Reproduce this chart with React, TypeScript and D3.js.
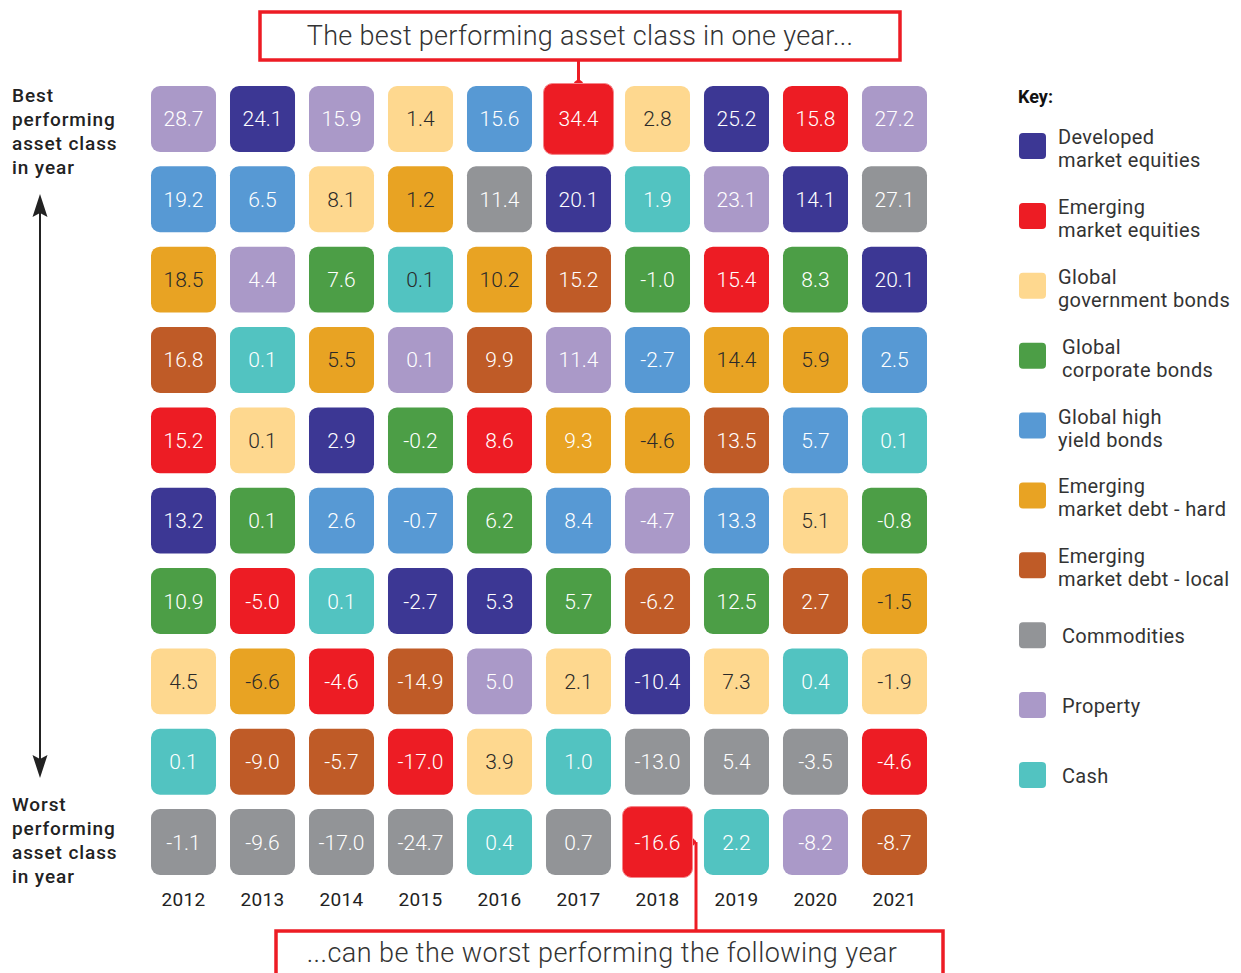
import React from 'react';
import * as d3 from 'd3';

// asset classes, in legend order
const assetKeys = ['dme', 'eme', 'ggb', 'gcb', 'ghy', 'emdh', 'emdl', 'com', 'prop', 'cash'];
const assetLabels = [
  ['Developed', 'market equities'],
  ['Emerging', 'market equities'],
  ['Global', 'government bonds'],
  ['Global', 'corporate bonds'],
  ['Global high', 'yield bonds'],
  ['Emerging', 'market debt - hard'],
  ['Emerging', 'market debt - local'],
  ['Commodities'],
  ['Property'],
  ['Cash'],
];
const assetColors = ['#3c3794', '#ed1c24', '#fed88f', '#4c9e46', '#5799d4', '#e8a323', '#bf5b27', '#929497', '#aa99c8', '#52c3c1'];

const years = ['2012', '2013', '2014', '2015', '2016', '2017', '2018', '2019', '2020', '2021'];

// ranking per year, best to worst
const ranking = [
  ['prop', 'ghy', 'emdh', 'emdl', 'eme', 'dme', 'gcb', 'ggb', 'cash', 'com'],
  ['dme', 'ghy', 'prop', 'cash', 'ggb', 'gcb', 'eme', 'emdh', 'emdl', 'com'],
  ['prop', 'ggb', 'gcb', 'emdh', 'dme', 'ghy', 'cash', 'eme', 'emdl', 'com'],
  ['ggb', 'emdh', 'cash', 'prop', 'gcb', 'ghy', 'dme', 'emdl', 'eme', 'com'],
  ['ghy', 'com', 'emdh', 'emdl', 'eme', 'gcb', 'dme', 'prop', 'ggb', 'cash'],
  ['eme', 'dme', 'emdl', 'prop', 'emdh', 'ghy', 'gcb', 'ggb', 'cash', 'com'],
  ['ggb', 'cash', 'gcb', 'ghy', 'emdh', 'prop', 'emdl', 'dme', 'com', 'eme'],
  ['dme', 'prop', 'eme', 'emdh', 'emdl', 'ghy', 'gcb', 'ggb', 'com', 'cash'],
  ['eme', 'dme', 'gcb', 'emdh', 'ghy', 'ggb', 'emdl', 'cash', 'com', 'prop'],
  ['prop', 'com', 'dme', 'ghy', 'cash', 'gcb', 'emdh', 'ggb', 'eme', 'emdl'],
];

// annual returns (%), same order as ranking
const returns = [
  [28.7, 19.2, 18.5, 16.8, 15.2, 13.2, 10.9, 4.5, 0.1, -1.1],
  [24.1, 6.5, 4.4, 0.1, 0.1, 0.1, -5.0, -6.6, -9.0, -9.6],
  [15.9, 8.1, 7.6, 5.5, 2.9, 2.6, 0.1, -4.6, -5.7, -17.0],
  [1.4, 1.2, 0.1, 0.1, -0.2, -0.7, -2.7, -14.9, -17.0, -24.7],
  [15.6, 11.4, 10.2, 9.9, 8.6, 6.2, 5.3, 5.0, 3.9, 0.4],
  [34.4, 20.1, 15.2, 11.4, 9.3, 8.4, 5.7, 2.1, 1.0, 0.7],
  [2.8, 1.9, -1.0, -2.7, -4.6, -4.7, -6.2, -10.4, -13.0, -16.6],
  [25.2, 23.1, 15.4, 14.4, 13.5, 13.3, 12.5, 7.3, 5.4, 2.2],
  [15.8, 14.1, 8.3, 5.9, 5.7, 5.1, 2.7, 0.4, -3.5, -8.2],
  [27.2, 27.1, 20.1, 2.5, 0.1, -0.8, -1.5, -1.9, -4.6, -8.7],
];

const darkTextKeys = ['ggb', 'emdh'];
const darkTextExtra = ['2015-cash'];
const lightTextExtra = ['2017-emdh'];

const bestText = 'The best performing asset class in one year...';
const worstText = '...can be the worst performing the following year';
const bestLabel = ['Best', 'performing', 'asset class', 'in year'];
const worstLabel = ['Worst', 'performing', 'asset class', 'in year'];

const FONT = 'Roboto, "Open Sans", sans-serif';
const RED = '#ed1c24';

export default function App() {
  const width = 1241;
  const height = 973;

  const x = d3.scaleBand<string>().domain(years).range([151, 927]).paddingInner(0.177).paddingOuter(0);
  const y = d3.scaleBand<number>().domain(d3.range(10)).range([86, 875]).paddingInner(0.18).paddingOuter(0);
  const color = d3.scaleOrdinal<string, string>().domain(assetKeys).range(assetColors);
  const legendY = d3.scalePoint<string>().domain(assetKeys).range([146, 775]);

  const bw = x.bandwidth();
  const bh = y.bandwidth();

  // highlighted: best of 2017 and worst of 2018
  const bestYear = '2017';
  const worstYear = '2018';
  const bestX = (x(bestYear) as number) + bw / 2;
  const bestTop = y(0) as number;
  const worstRight = (x(worstYear) as number) + bw;
  const worstMid = (y(9) as number) + bh / 2;

  const cells = years.flatMap((yr, i) =>
    ranking[i].map((k, r) => ({ year: yr, key: k, rank: r, value: returns[i][r] }))
  );

  const textFill = (yr: string, k: string) => {
    const id = `${yr}-${k}`;
    if (darkTextExtra.includes(id)) return '#2a2a2a';
    if (lightTextExtra.includes(id)) return '#ffffff';
    return darkTextKeys.includes(k) ? '#2a2a2a' : '#ffffff';
  };

  const isHighlight = (c: { year: string; rank: number }) =>
    (c.year === bestYear && c.rank === 0) || (c.year === worstYear && c.rank === 9);

  return (
    <svg width={width} height={height} style={{ position: 'absolute', left: 0, top: 0, background: '#fff' }} fontFamily={FONT}>
      {/* top callout */}
      <line x1={bestX} x2={bestX} y1={60} y2={bestTop} stroke={RED} strokeWidth={3} />
      <circle cx={bestX} cy={bestTop - 1} r={5} fill={RED} />
      <rect x={260} y={12} width={640} height={48} fill="#fff" stroke={RED} strokeWidth={3.5} />
      <text x={580} y={45} textAnchor="middle" fontSize={27} letterSpacing={0.3} fill="#333" fontWeight={300}>{bestText}</text>

      {/* bottom callout */}
      <line x1={worstRight + 6} x2={worstRight + 6} y1={worstMid} y2={931} stroke={RED} strokeWidth={3} />
      <line x1={worstRight} x2={worstRight + 6} y1={worstMid} y2={worstMid} stroke={RED} strokeWidth={3} />
      <circle cx={worstRight + 1} cy={worstMid} r={4} fill={RED} />
      <rect x={276} y={931} width={667} height={60} fill="#fff" stroke={RED} strokeWidth={3.5} />
      <text x={602} y={962} textAnchor="middle" fontSize={27} letterSpacing={0.45} fill="#333" fontWeight={300}>{worstText}</text>

      {/* grid */}
      {cells.map((c) => {
        const cx = x(c.year) as number;
        const cy = y(c.rank) as number;
        const hl = isHighlight(c);
        const pad = hl ? 2.5 : 0;
        return (
          <g key={`${c.year}-${c.rank}`}>
            <rect
              x={cx - pad}
              y={cy - pad}
              width={bw + pad * 2}
              height={bh + pad * 2}
              rx={9}
              fill={color(c.key)}
              stroke={hl ? '#f6868a' : 'none'}
              strokeWidth={hl ? 1 : 0}
            />
            <text
              x={cx + bw / 2}
              y={cy + bh / 2 + 7.5}
              textAnchor="middle"
              fontSize={21}
              fontWeight={300}
              fill={textFill(c.year, c.key)}
            >
              {c.value.toFixed(1)}
            </text>
          </g>
        );
      })}

      {/* year labels */}
      {years.map((yr) => (
        <text key={yr} x={(x(yr) as number) + bw / 2} y={906} textAnchor="middle" fontSize={19} letterSpacing={0.3} fill="#222">
          {yr}
        </text>
      ))}

      {/* left axis labels */}
      <g fontSize={19} fontWeight={500} letterSpacing={0.9} fill="#222">
        {bestLabel.map((t, i) => (
          <text key={t} x={12} y={102 + i * 24}>{t}</text>
        ))}
        {worstLabel.map((t, i) => (
          <text key={t} x={12} y={811 + i * 24}>{t}</text>
        ))}
      </g>
      <line x1={40} x2={40} y1={210} y2={762} stroke="#222" strokeWidth={2} />
      <path d="M40,194 L47.5,217 L40,213 L32.5,217 Z" fill="#222" />
      <path d="M40,778 L47.5,755 L40,759 L32.5,755 Z" fill="#222" />

      {/* legend */}
      <text x={1018} y={103} fontSize={18} fontWeight={700} fill="#111">Key:</text>
      {assetKeys.map((k, i) => {
        const cy = legendY(k) as number;
        const lines = assetLabels[i];
        const tx = k === 'gcb' ? 1062 : 1058;
        return (
          <g key={k}>
            <rect x={1019} y={cy - 13} width={27} height={26} rx={4} fill={color(k)} />
            {lines.length === 2 ? (
              <text fontSize={20} letterSpacing={0.35} fill="#333">
                <tspan x={tx} y={cy - 2}>{lines[0]}</tspan>
                <tspan x={tx} y={cy + 21}>{lines[1]}</tspan>
              </text>
            ) : (
              <text x={1062} y={cy + 8} fontSize={20} letterSpacing={0.35} fill="#333">{lines[0]}</text>
            )}
          </g>
        );
      })}
    </svg>
  );
}
